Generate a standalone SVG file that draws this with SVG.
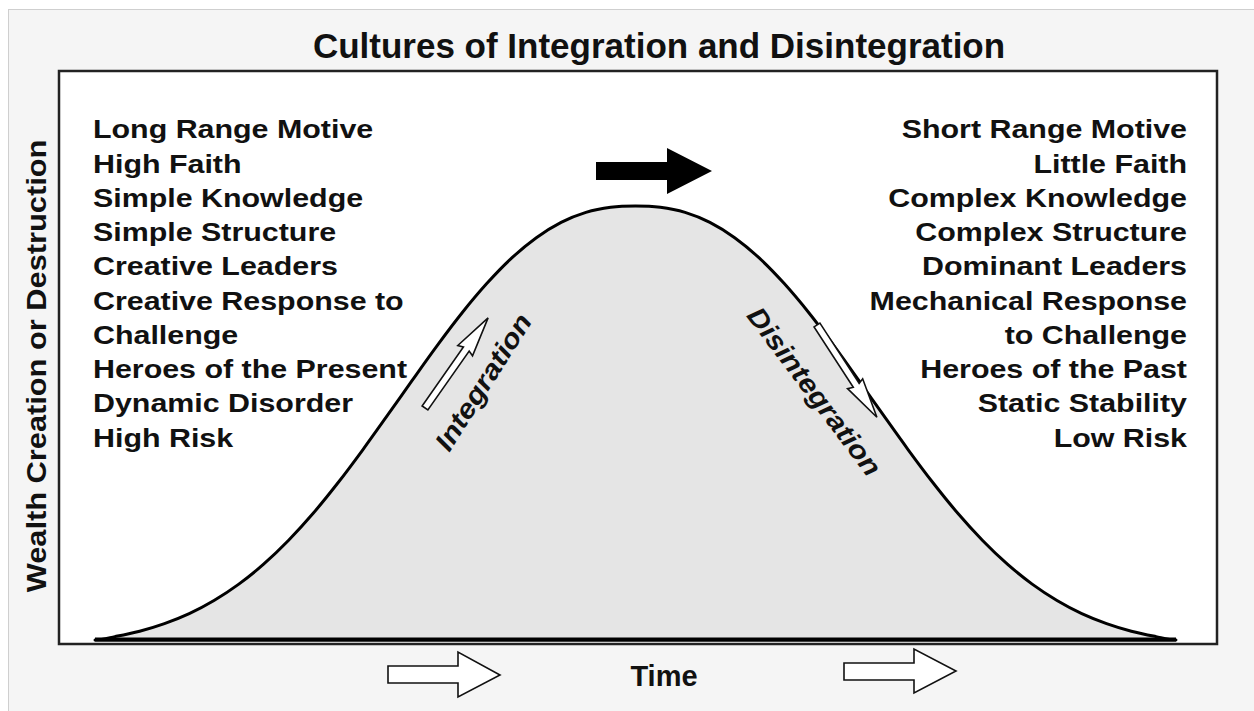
<svg xmlns="http://www.w3.org/2000/svg" width="1254" height="711" viewBox="0 0 1254 711">
<style>
.t{font-family:"Liberation Sans",Arial,sans-serif;font-weight:bold;fill:#111;}
.lst{font-size:26.5px;}
.open{fill:#fff;stroke:#111;stroke-width:1.6;stroke-linejoin:miter;}
</style>
<rect x="8.5" y="9.5" width="1260" height="720" fill="#f5f5f5" stroke="#cfcfcf" stroke-width="1"/>
<text id="title" class="t" x="659" y="58" font-size="35" text-anchor="middle">Cultures of Integration and Disintegration</text>
<g id="plot">
<rect x="59" y="71" width="1158" height="573" fill="#fff" stroke="#222" stroke-width="2.5"/>
<g id="curve" transform="translate(635.5,0) scale(0.9917,1) translate(-638,0)">
<path d="M93,640 C99.67,639.67 106.33,637.91 113,636.6 C121.33,634.97 129.67,633.37 138,631.2 C146.33,629.03 154.67,626.53 163,623.6 C171.33,620.67 179.67,617.45 188,613.6 C196.33,609.75 204.67,605.42 213,600.5 C221.33,595.58 229.67,590.15 238,584.1 C246.33,578.05 254.67,571.47 263,564.2 C271.33,556.93 279.67,548.98 288,540.5 C296.33,532.02 304.67,522.92 313,513.3 C321.33,503.68 329.67,493.38 338,482.8 C346.33,472.22 354.67,461.07 363,449.8 C371.33,438.53 379.67,426.82 388,415.2 C396.33,403.58 404.67,391.7 413,380.1 C421.33,368.5 429.67,356.78 438,345.6 C446.33,334.42 454.67,323.33 463,313 C471.33,302.67 479.67,292.73 488,283.6 C496.33,274.47 504.67,265.85 513,258.2 C521.33,250.55 529.67,243.67 538,237.7 C546.33,231.73 554.67,226.62 563,222.4 C571.33,218.18 579.67,214.92 588,212.4 C596.33,209.88 604.67,208.37 613,207.3 C621.33,206.23 629.67,206 638,206 C646.33,206 654.67,206.23 663,207.3 C671.33,208.37 679.67,209.88 688,212.4 C696.33,214.92 704.67,218.18 713,222.4 C721.33,226.62 729.67,231.73 738,237.7 C746.33,243.67 754.67,250.55 763,258.2 C771.33,265.85 779.67,274.47 788,283.6 C796.33,292.73 804.67,302.67 813,313 C821.33,323.33 829.67,334.42 838,345.6 C846.33,356.78 854.67,368.5 863,380.1 C871.33,391.7 879.67,403.58 888,415.2 C896.33,426.82 904.67,438.53 913,449.8 C921.33,461.07 929.67,472.22 938,482.8 C946.33,493.38 954.67,503.68 963,513.3 C971.33,522.92 979.67,532.02 988,540.5 C996.33,548.98 1004.67,556.93 1013,564.2 C1021.33,571.47 1029.67,578.05 1038,584.1 C1046.33,590.15 1054.67,595.58 1063,600.5 C1071.33,605.42 1079.67,609.75 1088,613.6 C1096.33,617.45 1104.67,620.67 1113,623.6 C1121.33,626.53 1129.67,629.03 1138,631.2 C1146.33,633.37 1154.67,634.97 1163,636.6 C1169.67,637.91 1176.33,639.67 1183,640 Z" fill="#e5e5e5" stroke="#000" stroke-width="3" stroke-linejoin="round"/>
</g>
<rect id="baseline" x="95" y="637.5" width="1081" height="4" fill="#000"/>
</g>
<g id="left-list" class="t lst" transform="translate(93,0) scale(1.147,1)">
<text x="0" y="138.5">Long Range Motive</text>
<text x="0" y="172.75">High Faith</text>
<text x="0" y="207">Simple Knowledge</text>
<text x="0" y="241.25">Simple Structure</text>
<text x="0" y="275.5">Creative Leaders</text>
<text x="0" y="309.75">Creative Response to</text>
<text x="0" y="344">Challenge</text>
<text x="0" y="378.25">Heroes of the Present</text>
<text x="0" y="412.5">Dynamic Disorder</text>
<text x="0" y="446.75">High Risk</text>
</g>
<g id="right-list" class="t lst" text-anchor="end" transform="translate(1187,0) scale(1.147,1)">
<text x="0" y="138.5">Short Range Motive</text>
<text x="0" y="172.75">Little Faith</text>
<text x="0" y="207">Complex Knowledge</text>
<text x="0" y="241.25">Complex Structure</text>
<text x="0" y="275.5">Dominant Leaders</text>
<text x="0" y="309.75">Mechanical Response</text>
<text x="0" y="344">to Challenge</text>
<text x="0" y="378.25">Heroes of the Past</text>
<text x="0" y="412.5">Static Stability</text>
<text x="0" y="446.75">Low Risk</text>
</g>
<g id="top-arrow">
<polygon points="596,162 667,162 667,148 712,171 667,194 667,180 596,180" fill="#000"/>
</g>
<g id="integration">
<polygon class="open" transform="translate(425,408) rotate(-55)" points="0,-3.5 72,-3.5 70,-9 110,0 70,9 72,3.5 0,3.5"/>
<text class="t" font-size="27" font-style="italic" text-anchor="middle" transform="translate(491,387) rotate(-57.6) scale(1.12,1)">Integration</text>
</g>
<g id="disintegration">
<polygon class="open" transform="translate(817,325) rotate(57)" points="0,-3.5 72,-3.5 70,-9 110,0 70,9 72,3.5 0,3.5"/>
<text class="t" font-size="27" font-style="italic" text-anchor="middle" transform="translate(807,397) rotate(53) scale(1.12,1)">Disintegration</text>
</g>
<g id="y-axis">
<text class="t" font-size="28" text-anchor="middle" transform="translate(46,366) rotate(-90) scale(1.1,1)">Wealth Creation or Destruction</text>
</g>
<g id="x-axis">
<text class="t" x="664" y="686" font-size="29" text-anchor="middle">Time</text>
<polygon class="open" points="388,666 458,666 458,652 500,675 458,697 458,683 388,683"/>
<polygon class="open" points="844,663 914,663 914,649 956,671 914,693 914,680 844,680"/>
</g>
</svg>
